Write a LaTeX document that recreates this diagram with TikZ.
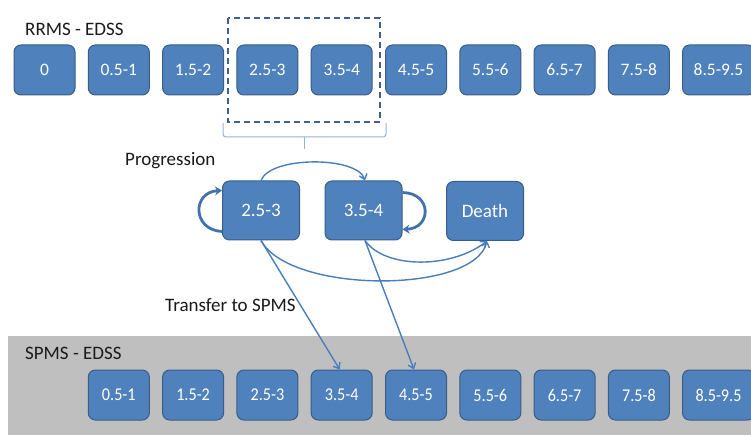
\documentclass[tikz,border=0pt]{standalone}
\usepackage{fontspec}
\setmainfont{Carlito}
\newfontfamily\condfont[FakeStretch=0.9]{Carlito}
\usetikzlibrary{arrows.meta,calc}
\definecolor{boxfill}{HTML}{4F81BD}
\definecolor{boxdraw}{HTML}{385D8A}
\definecolor{linecol}{HTML}{4A7EBB}
\definecolor{loopcol}{HTML}{4272AE}
\definecolor{dashcol}{HTML}{41618C}
\definecolor{bracecol}{HTML}{95B3D7}
\definecolor{bandcol}{HTML}{BFBFBF}
\definecolor{labcol}{HTML}{1A1A1A}
\begin{document}
\begin{tikzpicture}[x=1pt,y=-1pt,
  stbox/.style={draw=boxdraw, fill=boxfill, line width=1pt, rounded corners=7pt,
    text=white, minimum width=61pt, minimum height=50pt, inner sep=0pt,
    font=\fontsize{17.5}{18}\selectfont},
  btbox/.style={stbox, font=\condfont\fontsize{18}{18}\selectfont},
  midbox/.style={stbox, minimum width=77pt, minimum height=59pt,
    font=\fontsize{19}{20}\selectfont},
  lab/.style={anchor=west, inner sep=0pt, text=labcol, font=\fontsize{19}{20}\selectfont},
  conn/.style={draw=linecol, line width=1.4pt, -{Straight Barb[length=5pt,width=8pt]}},
  selfloop/.style={draw=loopcol, line width=2.8pt, -{Stealth[length=7pt,width=9pt]}}]
\clip (0,0) rectangle (751,435);
\fill[white] (0,0) rectangle (751,435);
\fill[bandcol] (8,336) rectangle (760,440);

% labels
\node[lab] (l1) at (25,29) {RRMS - EDSS};
\node[lab] (l2) at (125,161) {Progression};
\node[lab] (l3) at (165,305) {Transfer to SPMS};
\node[lab] (l4) at (25,353) {SPMS - EDSS};

% top row
\node[stbox] (t0) at (44.5,70) {0};
\node[stbox] (t1) at (118.8,70) {0.5-1};
\node[stbox] (t2) at (193.1,70) {1.5-2};
\node[stbox] (t3) at (267.4,70) {2.5-3};
\node[stbox] (t4) at (341.7,70) {3.5-4};
\node[stbox] (t5) at (416.0,70) {4.5-5};
\node[stbox] (t6) at (490.3,70) {5.5-6};
\node[stbox] (t7) at (564.6,70) {6.5-7};
\node[stbox] (t8) at (638.9,70) {7.5-8};
\node[stbox, minimum width=72pt] (t9) at (718.5,70) {8.5-9.5};

% bottom row
\node[btbox] (b1) at (118.8,395) {0.5-1};
\node[btbox] (b2) at (193.1,395) {1.5-2};
\node[btbox] (b3) at (267.4,395) {2.5-3};
\node[btbox] (b4) at (341.7,395) {3.5-4};
\node[btbox] (b5) at (416.0,395) {4.5-5};
\node[btbox] (b6) at (490.3,395) {5.5-6};
\node[btbox] (b7) at (564.6,395) {6.5-7};
\node[btbox] (b8) at (638.9,395) {7.5-8};
\node[btbox, minimum width=72pt] (b9) at (718.5,395) {8.5-9.5};

% middle row
\node[midbox] (m1) at (261,210.5) {2.5-3};
\node[midbox] (m2) at (363.5,210.5) {3.5-4};
\node[midbox] (death) at (485,211) {Death};

% dashed selection and brace
\draw[dashcol, line width=1.5pt, dash pattern=on 6pt off 4pt] (228,18) rectangle (380,122);
\draw[bracecol, line width=1pt, rounded corners=3pt] (223,123) -- (223,137) -- (386,137) -- (386,123);
\draw[bracecol, line width=1pt] (304.5,137) -- (304.5,149);

% connectors
\draw[conn] (m1.north) .. controls (270,156) and (357,156) .. ([xshift=1.5pt]m2.north);
\draw[conn] (m1.south) .. controls (290,294) and (474,294) .. ([xshift=2pt]death.south);
\draw[conn] ([xshift=1.5pt]m2.south) .. controls (385,269) and (451,269) .. ([xshift=2pt]death.south);
\draw[conn] (m1.south) -- ([xshift=-2pt]b4.north);
\draw[conn] ([xshift=1.5pt]m2.south) -- ([xshift=-2pt]b5.north);

% self loops
\draw[selfloop] ([yshift=-21pt]m1.west) .. controls (192,230) and (192,192) .. ([yshift=20pt]m1.west);
\draw[selfloop] ([yshift=18pt]m2.east) .. controls (432,193) and (432,228) .. ([yshift=-19pt]m2.east);
\end{tikzpicture}
\end{document}
